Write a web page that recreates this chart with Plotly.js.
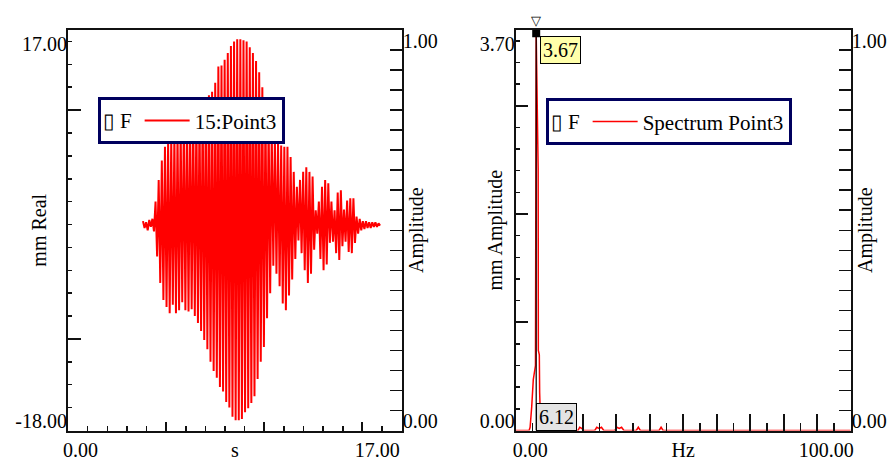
<!DOCTYPE html>
<html><head><meta charset="utf-8">
<script src="https://cdn.plot.ly/plotly-3.0.1.min.js"></script>
<style>html,body{margin:0;padding:0;background:#fff}#chart{width:893px;height:461px}</style>
</head><body><div id="chart"></div>
<script>
// ---------- data ----------
const timeStart = 3.82;      // s, first sample of the time record
const timeStep = 0.08;       // s, spacing of the read-off peaks
const realValues = [
  0.3,-0.3,0.2,-0.5,0.4,-0.2,0.5,-0.6,
  2.0,-2.8,3.9,-5.1,5.6,-6.6,6.8,-7.2,
  7.2,-7.75,7.6,-7.0,8.0,-7.75,8.2,-7.5,
  8.5,-6.8,8.8,-7.5,9.0,-7.6,9.3,-7.4,
  9.6,-8.0,9.9,-8.6,10.2,-9.3,10.6,-10.1,
  11.0,-10.9,11.3,-12.0,11.6,-12.8,12.4,-13.4,
  13.8,-14.2,13.9,-14.6,14.4,-15.5,15.0,-16.0,
  15.6,-16.8,16.0,-17.1,16.2,-17.1,16.2,-17.0,
  16.1,-16.4,16.0,-16.05,15.5,-15.6,15.0,-15.0,
  14.3,-13.5,13.3,-12.0,12.0,-10.7,10.5,-8.2,
  9.2,-6.0,8.0,-3.6,7.4,-4.3,7.2,-5.4,
  6.9,-6.9,6.8,-7.5,6.8,-6.2,5.9,-4.8,
  4.6,-3.0,3.3,-1.4,3.9,-2.5,4.6,-4.0,
  5.0,-5.1,4.6,-4.3,4.2,-2.2,1.25,-0.8,
  2.0,-3.0,3.3,-4.0,3.9,-3.5,3.6,-1.6,
  2.0,-1.5,1.25,-2.5,2.8,-3.1,3.0,-1.9,
  1.3,-1.5,2.1,-2.4,2.3,-2.5,2.3,-1.6,
  0.7,-0.8,0.5,-0.5,0.3,-0.4,0.3,-0.3,
  0.2,-0.3,0.2,-0.2,0.2,-0.2,0.1,-0.1
];
const freqHz = [0, 4.0, 4.3, 4.78, 5.25, 5.9, 6.12, 6.7, 6.76, 7.05, 7.15, 7.46, 8.0,
  18.6, 19.1, 19.7, 20.3, 23.6, 24.2, 24.9, 25.6, 26.3, 29.6, 30.2, 30.9, 31.6, 32.3,
  36.0, 36.6, 37.2, 42.8, 43.4, 44.0, 60, 100];
const ampValues = [0, 0, 0.03, 0.22, 0.47, 0.6, 3.67, 2.42, 0.74, 0.7, 0.35, 0.03, 0,
  0, 0.03, 0.02, 0, 0, 0.03, 0.02, 0.03, 0, 0, 0.03, 0.02, 0.03, 0,
  0, 0.03, 0, 0, 0.03, 0, 0, 0];
const cursorFreq = 6.12;
const cursorAmp = 3.67;

const timeRange = [0, 17];
const realRange = [-18, 17];
const freqRange = [0, 100];
const ampRange = [0, 3.7];
const unitRange = [0, 1];

const timeTickText = ['0.00', '17.00'];
const realTickText = ['17.00', '-18.00'];
const freqTickText = ['0.00', '100.00'];
const ampTickText = ['3.70', '0.00'];
const unitTickText = ['1.00', '0.00'];

const legendTitle = '\u25AF F';
const timeSeriesName = '15:Point3';
const spectrumName = 'Spectrum Point3';

// ---------- styling ----------
const FONT = {family: '"Liberation Serif", "Times New Roman", serif', size: 20, color: '#000'};
const LEGFONT = {family: '"Liberation Serif", "Times New Roman", serif', size: 21, color: '#000'};
const LINE = '#111';
const W = 893, H = 461;
const dL = [68 / W, 401.7 / W];
const dR = [515.7 / W, 850.7 / W];
const dY = [(H - 430.5) / H, (H - 30) / H];

function mainAxis(o) {
  const a = {
    showline: true, linecolor: LINE, linewidth: 2, showgrid: false, zeroline: false,
    ticks: 'inside', tickcolor: LINE, tickwidth: 2, showticklabels: false, fixedrange: true,
    title: {text: o.title, font: FONT, standoff: o.standoff}
  };
  return Object.assign(a, o.extra);
}
function labelAxis(extra) {
  return Object.assign({
    showline: false, showgrid: false, zeroline: false, ticks: '', fixedrange: true,
    tickfont: FONT, tickmode: 'array'
  }, extra);
}

const layout = {
  width: W, height: H, margin: {l: 0, r: 0, t: 0, b: 0},
  paper_bgcolor: '#fff', plot_bgcolor: '#fff', font: FONT,
  showlegend: true, hovermode: false,
  xaxis: mainAxis({title: 's', standoff: 12, extra: {
    domain: dL, anchor: 'y', range: timeRange, mirror: true,
    tickmode: 'array', tickvals: [5, 10, 15], ticklen: 9,
    minor: {dtick: 1, tick0: 0, ticks: 'inside', ticklen: 5, tickwidth: 1.5, tickcolor: LINE}}}),
  yaxis: mainAxis({title: 'mm Real', standoff: 14, extra: {
    domain: dY, anchor: 'x', range: realRange,
    tickmode: 'array', tickvals: [-10, 10], ticklen: 13,
    minor: {dtick: 2, tick0: 0, ticks: 'inside', ticklen: 4, tickwidth: 1.5, tickcolor: LINE}}}),
  xaxis2: mainAxis({title: 'Hz', standoff: 12, extra: {
    domain: dR, anchor: 'y2', range: freqRange, mirror: true,
    tickmode: 'array', tickvals: [10, 20, 30, 40, 50, 60, 70, 80, 90], ticklen: 17,
    minor: {dtick: 5, tick0: 0, ticks: 'inside', ticklen: 8, tickwidth: 1.5, tickcolor: LINE}}}),
  yaxis2: mainAxis({title: 'mm Amplitude', standoff: 6, extra: {
    domain: dY, anchor: 'x2', range: ampRange,
    tickmode: 'array', tickvals: [1, 2, 3], ticklen: 12,
    minor: {dtick: 0.2, tick0: 0, ticks: 'inside', ticklen: 4, tickwidth: 1.5, tickcolor: LINE}}}),
  yaxis3: mainAxis({title: 'Amplitude', standoff: 6, extra: {
    overlaying: 'y', anchor: 'x', side: 'right', range: unitRange,
    tickmode: 'linear', tick0: 0, dtick: 0.05, ticklen: 12, tickwidth: 1.5}}),
  yaxis4: mainAxis({title: 'Amplitude', standoff: 6, extra: {
    overlaying: 'y2', anchor: 'x2', side: 'right', range: unitRange,
    tickmode: 'linear', tick0: 0, dtick: 0.05, ticklen: 12, tickwidth: 1.5}}),
  // end labels
  xaxis3: labelAxis({overlaying: 'x', anchor: 'y', side: 'bottom', range: timeRange, ticklabelstandoff: 5,
    tickvals: [timeRange[0]], ticktext: [timeTickText[0]], ticklabelposition: 'outside right', ticklabelshift: -5}),
  xaxis4: labelAxis({overlaying: 'x', anchor: 'y', side: 'bottom', range: timeRange, ticklabelstandoff: 5,
    tickvals: [timeRange[1]], ticktext: [timeTickText[1]], ticklabelposition: 'outside left', ticklabelshift: -2}),
  xaxis5: labelAxis({overlaying: 'x2', anchor: 'y2', side: 'bottom', range: freqRange, ticklabelstandoff: 5,
    tickvals: [freqRange[0]], ticktext: [freqTickText[0]], ticklabelposition: 'outside right', ticklabelshift: -3}),
  xaxis6: labelAxis({overlaying: 'x2', anchor: 'y2', side: 'bottom', range: freqRange, ticklabelstandoff: 5,
    tickvals: [freqRange[1]], ticktext: [freqTickText[1]], ticklabelposition: 'outside left', ticklabelshift: 3}),
  yaxis5: labelAxis({overlaying: 'y', anchor: 'x', side: 'left', range: realRange,
    tickvals: [realRange[1]], ticktext: [realTickText[0]], ticklabelposition: 'outside bottom'}),
  yaxis6: labelAxis({overlaying: 'y', anchor: 'x', side: 'left', range: realRange,
    tickvals: [realRange[0]], ticktext: [realTickText[1]], ticklabelposition: 'outside top', ticklabelshift: 4}),
  yaxis7: labelAxis({overlaying: 'y', anchor: 'x', side: 'right', range: unitRange,
    tickvals: [unitRange[1]], ticktext: [unitTickText[0]], ticklabelposition: 'outside bottom', ticklabelshift: -3}),
  yaxis8: labelAxis({overlaying: 'y', anchor: 'x', side: 'right', range: unitRange,
    tickvals: [unitRange[0]], ticktext: [unitTickText[1]], ticklabelposition: 'outside top', ticklabelshift: 4}),
  yaxis9: labelAxis({overlaying: 'y2', anchor: 'x2', side: 'left', range: ampRange,
    tickvals: [ampRange[1]], ticktext: [ampTickText[0]], ticklabelposition: 'outside bottom'}),
  yaxis10: labelAxis({overlaying: 'y2', anchor: 'x2', side: 'left', range: ampRange,
    tickvals: [ampRange[0]], ticktext: [ampTickText[1]], ticklabelposition: 'outside top', ticklabelshift: 4}),
  yaxis11: labelAxis({overlaying: 'y2', anchor: 'x2', side: 'right', range: unitRange,
    tickvals: [unitRange[1]], ticktext: [unitTickText[0]], ticklabelposition: 'outside bottom', ticklabelshift: -3}),
  yaxis12: labelAxis({overlaying: 'y2', anchor: 'x2', side: 'right', range: unitRange,
    tickvals: [unitRange[0]], ticktext: [unitTickText[1]], ticklabelposition: 'outside top', ticklabelshift: 4}),
  legend: {x: 97.7 / W, y: 1 - 97.3 / H, xanchor: 'left', yanchor: 'top',
    bgcolor: '#fff', bordercolor: '#00005e', borderwidth: 3, font: LEGFONT, itemwidth: 45,
    title: {text: legendTitle, side: 'left', font: LEGFONT}},
  legend2: {x: 545.7 / W, y: 1 - 98.3 / H, xanchor: 'left', yanchor: 'top',
    bgcolor: '#fff', bordercolor: '#00005e', borderwidth: 3, font: LEGFONT, itemwidth: 45,
    title: {text: legendTitle, side: 'left', font: LEGFONT}},
  annotations: [
    {x: cursorFreq, y: cursorAmp, xref: 'x2', yref: 'y2', xanchor: 'left', yanchor: 'top',
     xshift: 4, yshift: -3, text: cursorAmp.toFixed(2), showarrow: false, font: FONT,
     bgcolor: '#ffffaa', bordercolor: '#000', borderwidth: 1, borderpad: 2},
    {x: cursorFreq, y: ampRange[0], xref: 'x2', yref: 'y2', xanchor: 'left', yanchor: 'bottom',
     text: cursorFreq.toFixed(2), showarrow: false, font: FONT,
     bgcolor: '#e4e4e4', bordercolor: '#000', borderwidth: 1, borderpad: 2},
    {x: cursorFreq, y: 1, xref: 'x2', yref: 'y2 domain', xanchor: 'center', yanchor: 'bottom',
     text: '\u25BD', showarrow: false, font: {family: 'DejaVu Sans', size: 13, color: '#000'}, yshift: 0}
  ]
};

const traces = [
  {type: 'scatter', mode: 'lines', x0: timeStart, dx: timeStep, y: realValues,
   xaxis: 'x', yaxis: 'y', name: timeSeriesName, legend: 'legend',
   line: {color: '#ff0000', width: 2.0, simplify: false}},
  {type: 'scatter', mode: 'lines', x: freqHz, y: ampValues,
   xaxis: 'x2', yaxis: 'y2', name: spectrumName, legend: 'legend2',
   line: {color: '#ff0000', width: 1.5, simplify: false}},
  {type: 'scatter', mode: 'lines', x: [cursorFreq, cursorFreq], y: ampRange,
   xaxis: 'x2', yaxis: 'y2', showlegend: false, line: {color: '#000', width: 1.2}},
  {type: 'scatter', mode: 'markers', x: [cursorFreq], y: [cursorAmp], cliponaxis: false,
   xaxis: 'x2', yaxis: 'y2', showlegend: false,
   marker: {symbol: 'square', size: 8, color: '#000'}}
];
// empty placeholder traces so that every overlaid axis gets drawn
[['x', 'y3'], ['x2', 'y4'], ['x3', 'y'], ['x4', 'y'], ['x5', 'y2'], ['x6', 'y2'],
 ['x', 'y5'], ['x', 'y6'], ['x', 'y7'], ['x', 'y8'],
 ['x2', 'y9'], ['x2', 'y10'], ['x2', 'y11'], ['x2', 'y12']].forEach(function (p) {
  traces.push({type: 'scatter', mode: 'lines', x: [], y: [], xaxis: p[0], yaxis: p[1], showlegend: false});
});

Plotly.newPlot('chart', traces, layout, {staticPlot: true, displayModeBar: false});
</script>
</body></html>
